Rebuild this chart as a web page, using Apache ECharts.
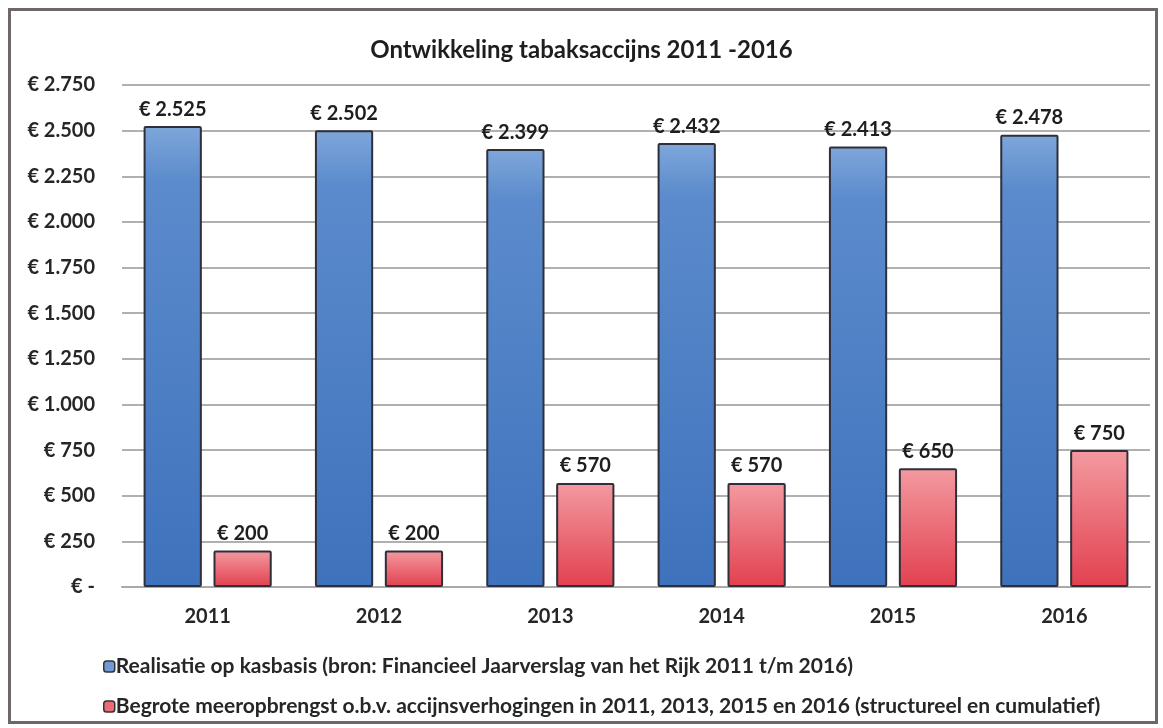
<!DOCTYPE html>
<html>
<head>
<meta charset="utf-8">
<script src="https://cdn.jsdelivr.net/npm/echarts@6/dist/echarts.min.js"></script>
<style>
html, body { margin: 0; padding: 0; background: #fff; }
#frame { position: absolute; left: 8px; top: 8px; width: 1150px; height: 716px; border: 3px solid #6e6668; box-sizing: border-box; }
#chart { width: 1163px; height: 728px; }
</style>
</head>
<body>
<div id="frame"></div>
<div id="chart"></div>
<script>
// ---- data ----
var years = ['2011', '2012', '2013', '2014', '2015', '2016'];
var realisatie = [2525, 2502, 2399, 2432, 2413, 2478];
var begroot = [200, 200, 570, 570, 650, 750];
var seriesNames = [
    'Realisatie op kasbasis (bron: Financieel Jaarverslag van het Rijk 2011 t/m 2016)',
    'Begrote meeropbrengst o.b.v. accijnsverhogingen in 2011, 2013, 2015 en 2016 (structureel en cumulatief)'
];

var font = 'Lato, "Open Sans", sans-serif';

function euro(v) {
    if (v === 0) return '€ -';
    return '€ ' + String(v).replace(/\B(?=(\d{3})+(?!\d))/g, '.');
}

var blue = new echarts.graphic.LinearGradient(0, 0, 0, 1, [
    { offset: 0, color: '#7ea6da' },
    { offset: 0.12, color: '#5b8bcc' },
    { offset: 1, color: '#3e72bc' }
]);
var red = new echarts.graphic.LinearGradient(0, 0, 0, 1, [
    { offset: 0, color: '#f39aa0' },
    { offset: 1, color: '#e2404f' }
]);

var chart = echarts.init(document.getElementById('chart'));
chart.setOption({
    backgroundColor: 'transparent',
    title: {
        text: 'Ontwikkeling tabaksaccijns 2011 -2016',
        left: 'center',
        top: 33,
        textStyle: { fontFamily: font, fontSize: 24, fontWeight: 'bold', color: '#1e1e1e' }
    },
    legend: {
        orient: 'vertical',
        left: 98,
        top: 651,
        itemWidth: 11,
        itemHeight: 11,
        itemGap: 19,
        icon: 'roundRect',
        textStyle: { fontFamily: font, fontSize: 21, fontWeight: 'bold', color: '#262626', padding: [0, 0, 0, -4] },
        data: [
            { name: seriesNames[0], itemStyle: { color: '#6f9ad3', borderColor: '#333', borderWidth: 1.5 } },
            { name: seriesNames[1], itemStyle: { color: '#ee6a74', borderColor: '#333', borderWidth: 1.5 } }
        ]
    },
    grid: { left: 122, right: 13, top: 85, bottom: 141, containLabel: false },
    xAxis: {
        type: 'category',
        data: years,
        axisLine: { show: true, lineStyle: { color: '#a9a9a9', width: 2 } },
        axisTick: { show: false },
        axisLabel: { fontFamily: font, fontSize: 20, fontWeight: 'bold', color: '#262626', margin: 20 }
    },
    yAxis: {
        type: 'value',
        min: 0,
        max: 2750,
        interval: 250,
        axisLine: { show: false },
        axisTick: { show: false },
        splitLine: { lineStyle: { color: '#b0b0b0', width: 2 } },
        axisLabel: {
            fontFamily: font, fontSize: 20, fontWeight: 'bold', color: '#262626', margin: 27,
            formatter: euro
        }
    },
    series: [{
        name: seriesNames[0],
        type: 'bar',
        data: realisatie,
        barWidth: '34%',
        barGap: '20%',
        itemStyle: { color: blue, borderColor: '#2f2f3a', borderWidth: 2, borderRadius: 1 },
        label: {
            show: true, position: 'top', distance: 7,
            fontFamily: font, fontSize: 20, fontWeight: 'bold', color: '#1e1e1e',
            formatter: function (p) { return euro(p.value); }
        }
    }, {
        name: seriesNames[1],
        type: 'bar',
        data: begroot,
        barWidth: '34%',
        itemStyle: { color: red, borderColor: '#2f2f3a', borderWidth: 2, borderRadius: 1 },
        label: {
            show: true, position: 'top', distance: 7,
            fontFamily: font, fontSize: 20, fontWeight: 'bold', color: '#1e1e1e',
            formatter: function (p) { return euro(p.value); }
        }
    }]
});
</script>
</body>
</html>
